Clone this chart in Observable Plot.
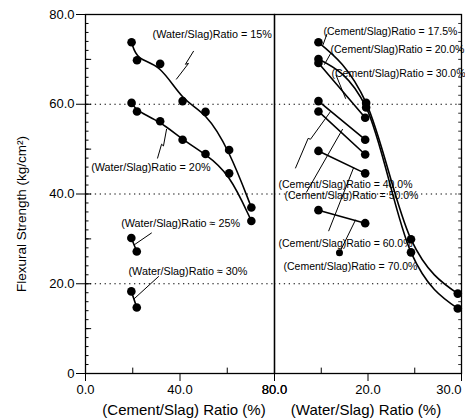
<!DOCTYPE html>
<html><head><meta charset="utf-8">
<script src="https://cdn.jsdelivr.net/npm/d3@7"></script>
<script src="https://cdn.jsdelivr.net/npm/@observablehq/plot@0.6"></script>
<style>
body{margin:0;background:#fff;}
#chart{position:relative;width:465px;height:419px;overflow:hidden;}
#chart svg{position:absolute;left:0;top:0;}
</style></head><body><div id="chart"></div>
<script>
const FONT = "'Liberation Sans', Arial, Helvetica, sans-serif";

// ---- Left panel: strength vs (Cement/Slag) ratio, one series per (Water/Slag) ratio
const cementRatio = [19.5, 21.8, 31.6, 41.1, 50.8, 60.8, 70.2];
const strengthWS15 = [73.8, 69.8, 69.0, 60.7, 58.3, 49.8, 37.0];
const strengthWS20 = [60.3, 58.4, 56.2, 52.1, 48.9, 44.6, 34.0];
const cementRatioShort = [19.4, 21.7];
const strengthWS25 = [30.2, 27.2];
const strengthWS30 = [18.3, 14.7];

// ---- Right panel: strength vs (Water/Slag) ratio, one series per (Cement/Slag) ratio
const waterRatio = [14.7, 19.8, 24.6, 29.6];
const strengthCS175 = [73.8, 60.3, 29.9, 17.8];
const strengthCS20 = [70.1, 59.3, 27.0, 14.5];
const waterRatioShort = [14.7, 19.7];
const strengthCS30 = [69.2, 57.0];
const strengthCS40 = [60.7, 52.1];
const strengthCS50 = [58.4, 48.8];
const strengthCS60 = [49.6, 44.6];
const strengthCS70 = [36.4, 33.5];

// ---- Axes / ticks
const yTicks = [0, 20, 40, 60, 80];
const yMinorTicks = d3.range(0, 81, 2);
const yMidTicks = d3.range(0, 81, 10);
const gridValues = [20, 40, 60];
const leftXTicks = [0, 40, 80];
const leftXMinor = [20, 60];
const rightXTicks = [20];
const rightXLastTick = [30];
const rightXMinor = [15, 25];

// ---- Annotation labels (text, anchor position in data units)
const leftLabels = ["(Water/Slag)Ratio = 15%", "(Water/Slag)Ratio = 20%", "(Water/Slag)Ratio ≈ 25%", "(Water/Slag)Ratio ≈ 30%"];
const leftLabelX = [28.4, 2.4, 15.1, 18.2];
const leftLabelY = [75.6, 46.0, 33.4, 22.7];
const leftLeaders = [
  [[45.7, 71.8], [42.3, 68.9], [43.6, 69.1], [38.5, 65.6]],
  [[30.5, 48.0], [32.2, 51.1], [33.0, 50.7], [34.3, 54.4]],
  [[27.9, 31.3], [20.7, 28.7]],
  [[30.9, 21.6], [20.7, 16.7]]
];
const rightLabels = ["(Cement/Slag)Ratio = 17.5%", "(Cement/Slag)Ratio = 20.0%", "(Cement/Slag)Ratio = 30.0%",
  "(Cement/Slag)Ratio = 40.0%", "(Cement/Slag)Ratio = 50.0%", "(Cement/Slag)Ratio = 60.0%", "(Cement/Slag)Ratio = 70.0%"];
const rightLabelX = [15.24, 15.99, 16.1, 10.43, 11.07, 10.43, 10.96];
const rightLabelY = [76.2, 72.2, 66.9, 42.2, 39.6, 28.9, 23.8];
const rightLeaders = [
  [[15.6, 75.6], [15.2, 73.3]],
  [[16.0, 71.3], [15.35, 68.9]],
  [[16.6, 66.4], [17.6, 61.3]],
  [[12.25, 45.8], [13.6, 52.4], [13.85, 52.2], [16.0, 58.4]],
  [[13.42, 40.4], [17.27, 54.4]],
  [[15.8, 31.8], [18.45, 45.8]],
  [[16.95, 26.9], [18.66, 34.2]]
];

// ---- build tables
const zip = (xs, ys, id) => xs.map((x, i) => ({x, y: ys[i], id}));
const leftLong = [...zip(cementRatio, strengthWS15, "15"), ...zip(cementRatio, strengthWS20, "20")];
const leftShort = [...zip(cementRatioShort, strengthWS25, "25"), ...zip(cementRatioShort, strengthWS30, "30")];
const rightLong = [...zip(waterRatio, strengthCS175, "17.5"), ...zip(waterRatio, strengthCS20, "20")];
const rightShort = [
  ...zip(waterRatioShort, strengthCS30, "30"), ...zip(waterRatioShort, strengthCS40, "40"),
  ...zip(waterRatioShort, strengthCS50, "50"), ...zip(waterRatioShort, strengthCS60, "60"),
  ...zip(waterRatioShort, strengthCS70, "70")];
const leaderRows = (arr) => arr.flatMap((pts, i) => pts.map(([x, y]) => ({x, y, id: i})));
const labelRows = (t, xs, ys) => t.map((text, i) => ({text, x: xs[i], y: ys[i]}));

const W = 465, H = 419, MT = 14, MB = 46, DIV = 274;
const common = {
  width: W, height: H, marginTop: MT, marginBottom: MB,
  style: {fontFamily: FONT, background: "transparent", color: "#000"}
};
const lw = 1.6, r = 4.3, TF = 13;

const leftPlot = Plot.plot({
  ...common,
  marginLeft: 85, marginRight: W - DIV,
  x: {domain: [0, 80], label: null},
  y: {domain: [0, 80], label: null},
  marks: [
    Plot.ruleY(gridValues, {stroke: "#000", strokeWidth: 1.2, strokeDasharray: "1.3,3.6"}),
    Plot.frame({stroke: "#000", strokeWidth: 1.3}),
    Plot.axisY(yTicks, {tickSize: 9, tickPadding: 2, fontSize: TF, label: null,
      tickFormat: d => d === 0 ? "0" : d.toFixed(1)}),
    Plot.ruleY(yMinorTicks, {x1: 0, x2: 1.5, stroke: "#000"}),
    Plot.ruleY(yMidTicks, {x1: 0, x2: 2.6, stroke: "#000"}),
    Plot.axisX(leftXTicks, {tickSize: 8, tickPadding: 3, fontSize: TF, label: null,
      tickFormat: d => d.toFixed(1)}),
    Plot.ruleX(leftXMinor, {y1: 0, y2: 1.2, stroke: "#000"}),
    Plot.line(leftLong, {x: "x", y: "y", z: "id", curve: "basis", stroke: "#000", strokeWidth: lw}),
    Plot.line(leftShort, {x: "x", y: "y", z: "id", stroke: "#000", strokeWidth: lw}),
    Plot.dot([...leftLong, ...leftShort], {x: "x", y: "y", r, fill: "#000"}),
    Plot.line(leaderRows(leftLeaders), {x: "x", y: "y", z: "id", stroke: "#000", strokeWidth: 1}),
    Plot.text(labelRows(leftLabels, leftLabelX, leftLabelY), {x: "x", y: "y", text: "text",
      textAnchor: "start", fontSize: 10.8, fill: "#000"}),
    Plot.text(["(Cement/Slag) Ratio (%)"], {frameAnchor: "bottom", textAnchor: "middle", lineAnchor: "middle",
      dx: 4, dy: 37, fontSize: 15, fill: "#000"}),
    Plot.text(["Flexural Strength (kg/cm²)"], {frameAnchor: "left", textAnchor: "middle", lineAnchor: "middle",
      dx: -64, dy: 20, rotate: -90, fontSize: 13.5, fill: "#000"})
  ]
});

const rightPlot = Plot.plot({
  ...common,
  marginLeft: DIV, marginRight: 4,
  x: {domain: [10, 30], label: null},
  y: {domain: [0, 80], label: null, axis: null},
  marks: [
    Plot.ruleY(gridValues, {stroke: "#000", strokeWidth: 1.2, strokeDasharray: "1.3,3.6"}),
    Plot.frame({stroke: "#000", strokeWidth: 1.3}),
    Plot.ruleY(yMinorTicks, {x1: 29.7, x2: 30, stroke: "#000", strokeWidth: 0.8}),
    Plot.axisX([10], {tickSize: 8, tickPadding: 3, fontSize: TF, label: null, tickFormat: () => "80.0"}),
    Plot.axisX(rightXTicks, {tickSize: 8, tickPadding: 3, fontSize: TF, label: null,
      tickFormat: d => d.toFixed(1)}),
    Plot.axisX(rightXLastTick, {tickSize: 8, tickPadding: 3, fontSize: TF, label: null, textAnchor: "end", dx: 0,
      tickFormat: d => d.toFixed(1)}),
    Plot.ruleX(rightXMinor, {y1: 0, y2: 1.2, stroke: "#000"}),
    Plot.line(rightLong, {x: "x", y: "y", z: "id", curve: "monotone-x", stroke: "#000", strokeWidth: lw}),
    Plot.line(rightShort, {x: "x", y: "y", z: "id", stroke: "#000", strokeWidth: lw}),
    Plot.dot([...rightLong, ...rightShort], {x: "x", y: "y", r, fill: "#000"}),
    Plot.line(leaderRows(rightLeaders), {x: "x", y: "y", z: "id", stroke: "#000", strokeWidth: 1}),
    Plot.dot(leaderRows(rightLeaders).filter(d => d.id === 6).slice(0, 1), {x: "x", y: "y", r: 3.5, fill: "#000"}),
    Plot.text(labelRows(rightLabels, rightLabelX, rightLabelY), {x: "x", y: "y", text: "text",
      textAnchor: "start", fontSize: 10.5, fill: "#000"}),
    Plot.text(["(Water/Slag) Ratio (%)"], {frameAnchor: "bottom", textAnchor: "middle", lineAnchor: "middle",
      dx: -2, dy: 37, fontSize: 15, fill: "#000"})
  ]
});

const chart = document.getElementById("chart");
chart.appendChild(leftPlot);
chart.appendChild(rightPlot);
</script></body></html>
